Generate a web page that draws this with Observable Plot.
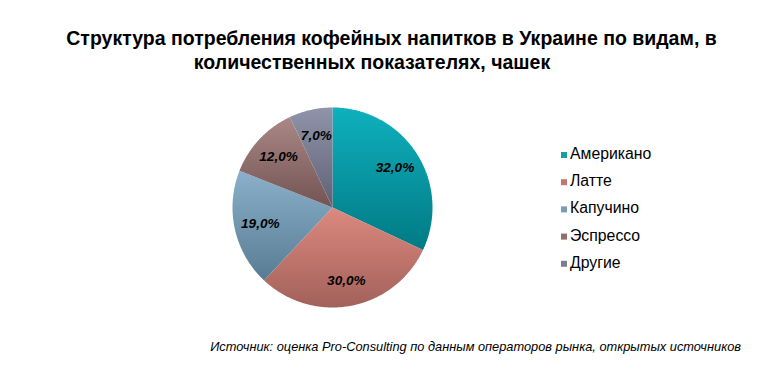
<!DOCTYPE html>
<html>
<head>
<meta charset="utf-8">
<script src="https://cdn.jsdelivr.net/npm/d3@7"></script>
<script src="https://cdn.jsdelivr.net/npm/@observablehq/plot@0.6"></script>
<style>
  html, body { margin: 0; padding: 0; background: #fff; }
  #wrap { position: relative; width: 765px; height: 366px; overflow: hidden; font-family: "Liberation Sans", Arial, sans-serif; }
  .t { position: absolute; transform: translateX(-50%); white-space: nowrap; font-weight: bold; font-size: 19.5px; color: #000; line-height: 1; }
  #cap { position: absolute; right: 24px; top: 339px; font-style: italic; font-size: 12.8px; color: #000; white-space: nowrap; }
  #chart { position: absolute; left: 0; top: 82px; }
</style>
</head>
<body>
<div id="wrap">
  <div class="t" style="left:391.5px; top:28.5px;">Структура потребления кофейных напитков в Украине по видам, в</div>
  <div class="t" style="left:372px; top:52.5px;">количественных показателях, чашек</div>
  <div id="chart"></div>
  <div id="cap">Источник: оценка Pro-Consulting по данным операторов рынка, открытых источников</div>
</div>
<script>
const categories = ["Американо", "Латте", "Капучино", "Эспрессо", "Другие"];
const shares = [32.0, 30.0, 19.0, 12.0, 7.0];

const topColors = ["#0fb0bd", "#dc897e", "#8bb0cb", "#a98886", "#9094aa"];
const bottomColors = ["#007a84", "#a2615b", "#577c92", "#735452", "#5f6275"];
const swatchColors = ["#1a9ba6", "#c27770", "#779cb3", "#8f6f6d", "#7b7e92"];

const arcs = d3.pie().sort(null).value(d => d)(shares);

// slice polygons in unit-circle coordinates (y up)
const slices = arcs.map((a, i) => {
  const pts = [{x: 0, y: 0}];
  const n = Math.max(2, Math.ceil((a.endAngle - a.startAngle) / 0.01));
  for (let k = 0; k <= n; k++) {
    const t = a.startAngle + (a.endAngle - a.startAngle) * k / n;
    pts.push({x: Math.sin(t), y: Math.cos(t)});
  }
  pts.push({x: 0, y: 0});
  return pts;
});

const labelData = arcs.map((a, i) => {
  const m = (a.startAngle + a.endAngle) / 2;
  return {x: 0.74 * Math.sin(m), y: 0.74 * Math.cos(m), label: shares[i].toFixed(1).replace(".", ",") + "%"};
});

const legendData = categories.map((c, i) => ({x: 2.315, y: 0.535 - i * 0.272, name: c, color: swatchColors[i]}));

const marks = slices.map((pts, i) =>
  Plot.line(pts, {x: "x", y: "y", fill: `url(#grad${i})`, stroke: "none", curve: "linear"})
);
marks.push(
  Plot.text(labelData, {x: "x", y: "y", text: "label", fontWeight: "bold", fontStyle: "italic", fontSize: 13.6, fill: "#000"}),
  Plot.dot(legendData, {x: "x", y: "y", symbol: "square", r: 3.4, fill: "color", stroke: "none", dy: 1}),
  Plot.text(legendData, {x: "x", y: "y", text: "name", textAnchor: "start", dx: 6, fontSize: 15.8, fill: "#000"})
);

const svg = Plot.plot({
  width: 765,
  height: 253,
  margin: 0,
  style: {fontFamily: "'Liberation Sans', Arial, sans-serif", background: "transparent"},
  x: {domain: [-1, 1], range: [232, 432], axis: null},
  y: {domain: [-1, 1], range: [225, 25], axis: null},
  color: {type: "identity"},
  marks
});

const defs = d3.select(svg).insert("defs", ":first-child");
topColors.forEach((c, i) => {
  const g = defs.append("linearGradient").attr("id", `grad${i}`).attr("x1", 0).attr("y1", 0).attr("x2", 0).attr("y2", 1);
  g.append("stop").attr("offset", "0%").attr("stop-color", c);
  g.append("stop").attr("offset", "100%").attr("stop-color", bottomColors[i]);
});

document.getElementById("chart").appendChild(svg);
</script>
</body>
</html>
